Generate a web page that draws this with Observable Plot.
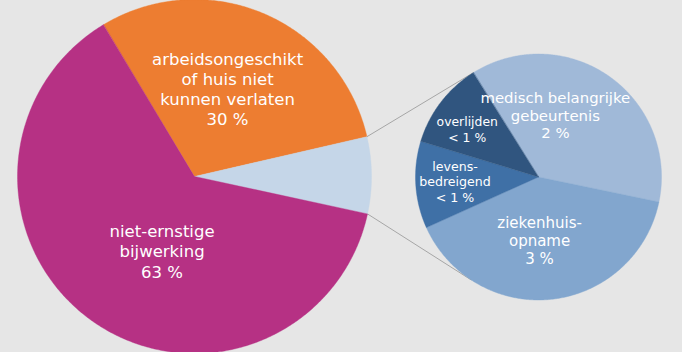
<!DOCTYPE html>
<html><head><meta charset="utf-8">
<script src="https://cdn.jsdelivr.net/npm/d3@7"></script>
<script src="https://cdn.jsdelivr.net/npm/@observablehq/plot@0.6"></script>
<style>html,body{margin:0;padding:0;background:#e6e6e6;overflow:hidden;} #chart{width:682px;height:352px;}</style>
</head><body><div id="chart"></div>
<script>
// ---- data ----
const mainCategories = ["arbeidsongeschikt of huis niet kunnen verlaten", "ernstige bijwerking", "niet-ernstige bijwerking"];
const mainValues = [30, 7, 63];
const mainLabels = ["arbeidsongeschikt\nof huis niet\nkunnen verlaten\n30 %", "", "niet-ernstige\nbijwerking\n63 %"];
const detailCategories = ["medisch belangrijke gebeurtenis", "ziekenhuisopname", "levensbedreigend", "overlijden"];
const detailValues = [2.6, 2.8, 0.8, 0.8];
const detailLabels = ["medisch belangrijke\ngebeurtenis\n2 %", "ziekenhuis-\nopname\n3 %", "levens-\nbedreigend\n< 1 %", "overlijden\n< 1 %"];

// ---- styles / layout ----
const mainColors = ["#ED7D31", "#C5D6E8", "#B63184"];
const detailColors = ["#A0B9D8", "#82A6CE", "#3F70A6", "#30557F"];
const W = 682, H = 352;
const layout = {
  main: {cx: 194, cy: 176, r: 177, start: -31,
    labels: [{da: -2.4, r: 94, size: 16.5, lh: 1.23}, null, {da: -12, r: 81, size: 16.5, lh: 1.23}]},
  detail: {cx: 538, cy: 176.5, r: 123, start: -32,
    labels: [{da: -19.6, r: 64, size: 14.9, lh: 1.17}, {da: 5.3, r: 63.5, size: 15, lh: 1.18},
             {da: 0.7, r: 83.6, size: 12.6, lh: 1.25}, {da: -3.4, r: 86, size: 12.4, lh: 1.29}]},
  connectorDetailAngles: [-32, 213.3]
};
const rad = d => d * Math.PI / 180;
const polar = (p, a, r) => ({x: p.cx + r * Math.sin(a), y: p.cy - r * Math.cos(a)});

function slices(values, cats, colors, p, prefix) {
  const s0 = rad(p.start);
  const arcs = d3.pie().sort(null).value(d => d).startAngle(s0).endAngle(s0 + 2 * Math.PI)(values);
  const rows = [];
  arcs.forEach((a, i) => {
    const key = prefix + i;
    rows.push({key, color: colors[i], ...polar(p, 0, 0)});
    const n = Math.max(2, Math.ceil((a.endAngle - a.startAngle) / rad(0.5)));
    for (let k = 0; k <= n; k++) {
      const t = a.startAngle + (a.endAngle - a.startAngle) * k / n;
      rows.push({key, color: colors[i], ...polar(p, t, p.r)});
    }
  });
  return {arcs, rows};
}

const M = slices(mainValues, mainCategories, mainColors, layout.main, "m");
const D = slices(detailValues, detailCategories, detailColors, layout.detail, "d");

// connectors: from edges of the "ernstige" slice to the detail pie
const ern = M.arcs[1];
const connectors = [
  {key: "top", ...polar(layout.main, ern.startAngle, layout.main.r)},
  {key: "top", ...polar(layout.detail, rad(layout.connectorDetailAngles[0]), layout.detail.r)},
  {key: "bot", ...polar(layout.main, ern.endAngle, layout.main.r)},
  {key: "bot", ...polar(layout.detail, rad(layout.connectorDetailAngles[1]), layout.detail.r)}
];

function labelMarks(arcs, labels, p) {
  const marks = [];
  arcs.forEach((a, i) => {
    const cfg = p.labels[i];
    if (!cfg || !labels[i]) return;
    const mid = (a.startAngle + a.endAngle) / 2 + rad(cfg.da);
    const pos = polar(p, mid, cfg.r);
    marks.push(Plot.text([{...pos, t: labels[i]}], {
      x: "x", y: "y", text: "t", fill: "white", fontSize: cfg.size, lineHeight: cfg.lh,
      fontFamily: "DejaVu Sans", textAnchor: "middle", lineAnchor: "middle"
    }));
  });
  return marks;
}

const chart = Plot.plot({
  width: W, height: H, margin: 0,
  style: {background: "#e6e6e6", overflow: "hidden"},
  x: {domain: [0, W], axis: null},
  y: {domain: [0, H], reverse: true, axis: null},
  color: {type: "identity"},
  marks: [
    Plot.line(connectors, {x: "x", y: "y", z: "key", stroke: "#a6a6a6", strokeWidth: 1}),
    Plot.line(M.rows, {x: "x", y: "y", z: "key", fill: "color", stroke: "color", strokeWidth: 0.4, curve: "linear-closed"}),
    Plot.line(D.rows, {x: "x", y: "y", z: "key", fill: "color", stroke: "color", strokeWidth: 0.4, curve: "linear-closed"}),
    ...labelMarks(M.arcs, mainLabels, layout.main),
    ...labelMarks(D.arcs, detailLabels, layout.detail)
  ]
});
document.getElementById("chart").appendChild(chart);
</script>
</body></html>
